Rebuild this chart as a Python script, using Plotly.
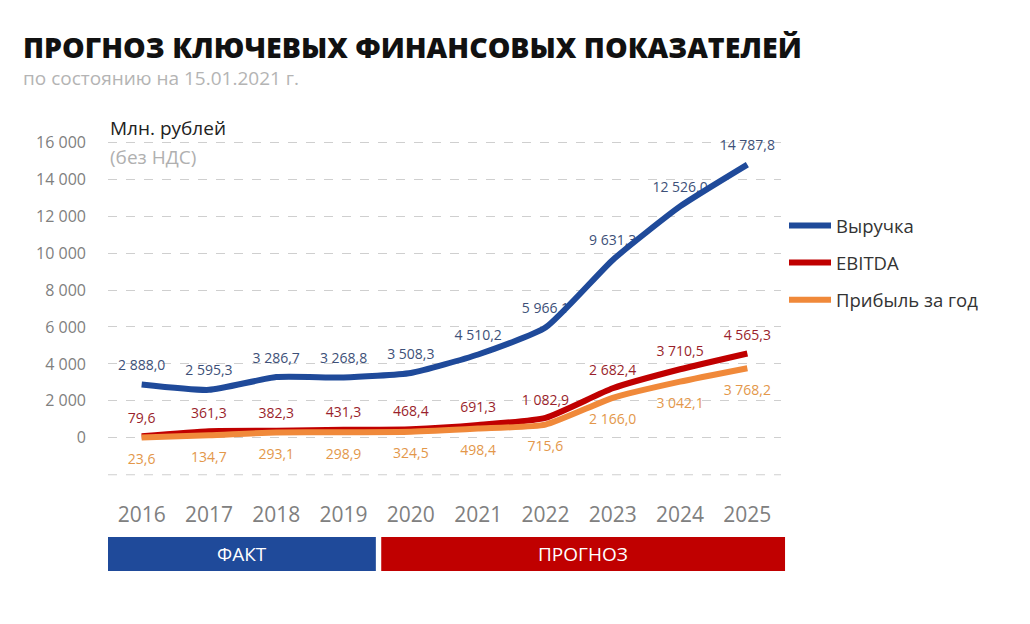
import plotly.graph_objects as go

# ---------------- data ----------------
years = [2016, 2017, 2018, 2019, 2020, 2021, 2022, 2023, 2024, 2025]
revenue = [2888.0, 2595.3, 3286.7, 3268.8, 3508.3, 4510.2, 5966.1, 9631.3, 12526.0, 14787.8]
ebitda = [79.6, 361.3, 382.3, 431.3, 468.4, 691.3, 1082.9, 2682.4, 3710.5, 4565.3]
profit = [23.6, 134.7, 293.1, 298.9, 324.5, 498.4, 715.6, 2166.0, 3042.1, 3768.2]
series_names = ["Выручка", "EBITDA", "Прибыль за год"]
y_ticks = [0, 2000, 4000, 6000, 8000, 10000, 12000, 14000, 16000]
fact_years = [2016, 2019]
forecast_years = [2020, 2025]
period_labels = ["ФАКТ", "ПРОГНОЗ"]

title_text = "ПРОГНОЗ КЛЮЧЕВЫХ ФИНАНСОВЫХ ПОКАЗАТЕЛЕЙ"
subtitle_text = "по состоянию на 15.01.2021 г."
unit_text = "Млн. рублей"
unit_note = "(без НДС)"

# ---------------- layout constants ----------------
OFF = 8  # page body margin
W, H = 1030, 624
PLOT_W, PLOT_H = 673, 351
L, T = 108 - OFF, 133 - OFF
R = W - L - PLOT_W
B = H - T - PLOT_H
XMIN, XMAX = 2015.5, 2025.5
YMIN, YMAX = -2500, 16500
FONT = "Open Sans"

c_blue = "#1f4a9a"
c_red = "#c00000"
c_orange = "#f0893a"
c_blue_lbl = "#3d5078"
c_red_lbl = "#9a1f2c"
c_orange_lbl = "#e3974a"


def fmt(v, dec=1):
    s = f"{v:,.{dec}f}"
    return s.replace(",", " ").replace(".", ",")


def paper_x_px(px):
    return (px - OFF - L) / PLOT_W


def paper_y_px(py):
    return (T + PLOT_H - (py - OFF)) / PLOT_H


def paper_x_data(x):
    return (x - XMIN) / (XMAX - XMIN)


fig = go.Figure()

# labels first so that lines are drawn on top of them
label_specs = [
    (revenue, c_blue_lbl, "top center", 16),
    (ebitda, c_red_lbl, "top center", 14),
    (profit, c_orange_lbl, "bottom center", 24),
]
for vals, col, pos, msize in label_specs:
    fig.add_trace(go.Scatter(
        x=years, y=vals, mode="markers+text",
        text=[fmt(v) for v in vals], textposition=pos,
        textfont=dict(family=FONT, size=14, color=col),
        marker=dict(size=msize, opacity=0),
        showlegend=False, hoverinfo="skip", cliponaxis=False,
    ))

line_specs = [(revenue, c_blue), (ebitda, c_red), (profit, c_orange)]
for i, ((vals, col), name) in enumerate(zip(line_specs, series_names)):
    fig.add_trace(go.Scatter(
        x=years, y=vals, mode="lines", name=name,
        line=dict(color=col, width=6, shape="spline", smoothing=0.5),
        legendgroup=f"g{i}",
    ))

# period bands
band_y0, band_y1 = paper_y_px(571), paper_y_px(537)
bands = [
    (fact_years[0] - 0.5, fact_years[1] + 0.48, c_blue, period_labels[0]),
    (forecast_years[0] - 0.44, forecast_years[1] + 0.56, c_red, period_labels[1]),
]
shapes = []
annotations = []
for x0, x1, col, lbl in bands:
    px0, px1 = paper_x_data(x0), paper_x_data(x1)
    shapes.append(dict(type="rect", xref="paper", yref="paper",
                       x0=px0, x1=px1, y0=band_y0, y1=band_y1,
                       fillcolor=col, line=dict(width=0), layer="above"))
    annotations.append(dict(xref="paper", yref="paper", x=(px0 + px1) / 2,
                            y=(band_y0 + band_y1) / 2, text=lbl, showarrow=False,
                            xanchor="center", yanchor="middle",
                            font=dict(family=FONT, size=19, color="white")))

# extra dashed gridline below zero
shapes.append(dict(type="line", xref="paper", yref="y", x0=0, x1=1, y0=-2000, y1=-2000,
                   line=dict(color="#cfcfcf", width=1, dash="dash"), layer="below"))

annotations += [
    dict(xref="paper", yref="paper", x=paper_x_px(21), y=paper_y_px(47), text=title_text,
         showarrow=False, xanchor="left", yanchor="middle",
         font=dict(family=FONT, size=28.5, color="#111111", weight=800)),
    dict(xref="paper", yref="paper", x=paper_x_px(21), y=paper_y_px(78), text=subtitle_text,
         showarrow=False, xanchor="left", yanchor="middle",
         font=dict(family=FONT, size=19, color="#b4b4b4")),
    dict(xref="paper", yref="paper", x=0, y=paper_y_px(128), text=unit_text,
         showarrow=False, xanchor="left", yanchor="middle",
         font=dict(family=FONT, size=19, color="#222222")),
    dict(xref="paper", yref="paper", x=0, y=paper_y_px(157), text=unit_note,
         showarrow=False, xanchor="left", yanchor="middle",
         font=dict(family=FONT, size=19, color="#b0b0b0")),
]

fig.update_layout(
    width=W, height=H,
    margin=dict(l=L, r=R, t=T, b=B, pad=0),
    paper_bgcolor="white", plot_bgcolor="white",
    font=dict(family=FONT),
    showlegend=True,
    legend=dict(x=paper_x_px(784), y=paper_y_px(207), xanchor="left", yanchor="top",
                font=dict(family=FONT, size=18.5, color="#333333"),
                itemwidth=42,
                traceorder="grouped", tracegroupgap=10, bgcolor="rgba(0,0,0,0)"),
    shapes=shapes,
    annotations=annotations,
)

fig.update_xaxes(
    range=[XMIN, XMAX], tickvals=years, ticktext=[str(y) for y in years],
    showgrid=False, zeroline=False, showline=False, ticks="",
    tickfont=dict(family=FONT, size=21, color="#808080"),
    ticklabelstandoff=16,
)
fig.update_yaxes(
    range=[YMIN, YMAX], tickvals=y_ticks, ticktext=[fmt(v, 0) for v in y_ticks],
    showgrid=True, gridcolor="#cfcfcf", griddash="dash", gridwidth=1,
    zeroline=False, showline=False, ticks="",
    tickfont=dict(family=FONT, size=16, color="#808080"),
    ticklabelstandoff=21,
)

fig.write_html("out.html")
